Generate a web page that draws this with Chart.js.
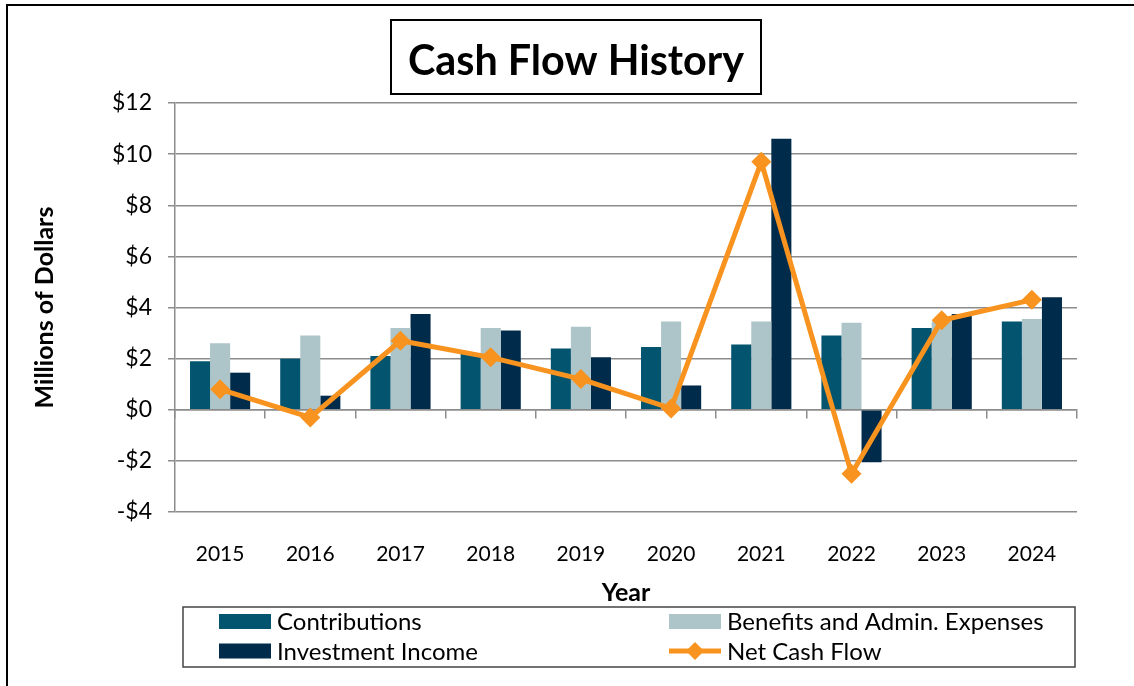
<!DOCTYPE html>
<html>
<head>
<meta charset="utf-8">
<title>Cash Flow History</title>
<script src="https://cdn.jsdelivr.net/npm/chart.js@4.4.1/dist/chart.umd.min.js"></script>
<style>
  html, body { margin: 0; padding: 0; background: #fff; }
  #wrap { width: 1134px; height: 686px; }
</style>
</head>
<body>
<div id="wrap"><canvas id="cashFlow" width="1134" height="686"></canvas></div>
<script>
// values (millions of dollars)
const years = ["2015", "2016", "2017", "2018", "2019", "2020", "2021", "2022", "2023", "2024"];
const contributions = [1.9, 2.0, 2.1, 2.2, 2.4, 2.45, 2.55, 2.9, 3.2, 3.45];
const benefitsAdmin = [2.6, 2.9, 3.2, 3.2, 3.25, 3.45, 3.45, 3.4, 3.45, 3.55];
const investmentIncome = [1.45, 0.55, 3.75, 3.1, 2.05, 0.95, 10.6, -2.05, 3.75, 4.4];
const netCashFlow = [0.8, -0.3, 2.7, 2.05, 1.2, 0.05, 9.7, -2.5, 3.5, 4.3];
const yTicks = [-4, -2, 0, 2, 4, 6, 8, 10, 12];

const FONT = "Lato, 'Open Sans', sans-serif";
const gridGray = "#8c8c8c";

// outer frame, boxed title and the boxed two-column legend
const framePlugin = {
    id: 'frame',
    afterDraw(chart) {
        const ctx = chart.ctx;
        ctx.save();

        // outer chart border (right/bottom run off the picture)
        ctx.strokeStyle = "#000";
        ctx.lineWidth = 2;
        ctx.beginPath();
        ctx.moveTo(7, 700);
        ctx.lineTo(7, 5);
        ctx.lineTo(1140, 5);
        ctx.stroke();

        // title in a box
        let title = "Cash Flow History";
        let size = 40;
        ctx.font = "bold " + size + "px " + FONT;
        size = size * 336 / ctx.measureText(title).width;
        ctx.font = "bold " + size.toFixed(1) + "px " + FONT;
        ctx.lineWidth = 2;
        ctx.strokeRect(391, 20, 370, 74);
        ctx.fillStyle = "#000";
        ctx.textAlign = "center";
        ctx.textBaseline = "alphabetic";
        ctx.fillText(title, 576, 75);

        // legend
        ctx.lineWidth = 1.5;
        ctx.strokeStyle = "#444";
        ctx.strokeRect(183, 607, 892, 60);
        let cols = [219, 669];
        let rows = [621.5, 651];
        let order = [0, 1, 2, 3];
        ctx.font = "24px " + FONT;
        ctx.textAlign = "left";
        ctx.textBaseline = "middle";
        order.forEach((dsIndex, i) => {
            let ds = chart.data.datasets[dsIndex];
            let x = cols[i % 2];
            let y = rows[Math.floor(i / 2)];
            if (ds.type === 'line') {
                ctx.strokeStyle = ds.borderColor;
                ctx.lineWidth = 5;
                ctx.beginPath();
                ctx.moveTo(x, y);
                ctx.lineTo(x + 52, y);
                ctx.stroke();
                ctx.fillStyle = ds.borderColor;
                ctx.beginPath();
                ctx.moveTo(x + 26, y - 9);
                ctx.lineTo(x + 35, y);
                ctx.lineTo(x + 26, y + 9);
                ctx.lineTo(x + 17, y);
                ctx.closePath();
                ctx.fill();
            } else {
                ctx.fillStyle = ds.backgroundColor;
                ctx.fillRect(x, y - 7.5, 52, 15);
            }
            ctx.fillStyle = "#000";
            ctx.fillText(ds.label, x + 58, y + 1);
        });
        ctx.restore();
    }
};

var ctx = document.getElementById("cashFlow").getContext('2d');

var cashChart = new Chart(ctx, {
    plugins: [framePlugin],
    data: {
        labels: years,
        datasets: [{
            type: 'bar',
            label: "Contributions",
            data: contributions,
            backgroundColor: "#02546f",
            order: 1
        }, {
            type: 'bar',
            label: "Benefits and Admin. Expenses",
            data: benefitsAdmin,
            backgroundColor: "#adc5c9",
            order: 1
        }, {
            type: 'bar',
            label: "Investment Income",
            data: investmentIncome,
            backgroundColor: "#002b4a",
            order: 1
        }, {
            type: 'line',
            label: "Net Cash Flow",
            data: netCashFlow,
            borderColor: "#f7931e",
            backgroundColor: "#f7931e",
            borderWidth: 5,
            tension: 0,
            pointStyle: 'rectRot',
            pointRadius: 10,
            pointBorderWidth: 0,
            pointBackgroundColor: "#f7931e",
            order: 0
        }]
    },
    options: {
        responsive: false,
        animation: false,
        datasets: {
            bar: {
                categoryPercentage: 0.667,
                barPercentage: 1.0
            }
        },
        layout: {
            padding: { left: 0, right: 57, top: 103, bottom: 74 }
        },
        plugins: {
            legend: { display: false },
            title: { display: false },
            tooltip: { enabled: false }
        },
        scales: {
            x: {
                type: 'category',
                position: { y: 0 },
                offset: true,
                grid: {
                    offset: true,
                    drawOnChartArea: false,
                    drawTicks: true,
                    tickLength: 8,
                    color: gridGray,
                    lineWidth: 1.5
                },
                border: { display: true, color: gridGray, width: 1.5 },
                ticks: { display: false }
            },
            x2: {
                type: 'category',
                position: 'bottom',
                offset: true,
                grid: { display: false },
                border: { display: false },
                ticks: {
                    padding: 22,
                    color: "#000",
                    font: { family: FONT, size: 21 }
                },
                title: {
                    display: true,
                    text: "Year",
                    color: "#000",
                    font: { family: FONT, size: 25, weight: 'bold' },
                    padding: { top: 0, bottom: 4 }
                },
                afterFit: (scale) => { scale.height = 100; }
            },
            y: {
                min: -4,
                max: 12,
                afterBuildTicks: (scale) => {
                    scale.ticks = yTicks.map(v => ({ value: v }));
                },
                grid: {
                    color: gridGray,
                    lineWidth: 1.5,
                    tickLength: 7
                },
                border: { display: true, color: gridGray, width: 1.5 },
                ticks: {
                    padding: 16,
                    color: "#000",
                    font: { family: FONT, size: 23 },
                    callback: (value) => value < 0 ? "-$" + Math.abs(value) : "$" + value
                },
                title: {
                    display: true,
                    text: "Millions of Dollars",
                    color: "#000",
                    font: { family: FONT, size: 25, weight: 'bold' },
                    padding: { top: 30, bottom: 0 }
                },
                afterFit: (scale) => { scale.width = 175; }
            }
        }
    }
});
</script>
</body>
</html>
